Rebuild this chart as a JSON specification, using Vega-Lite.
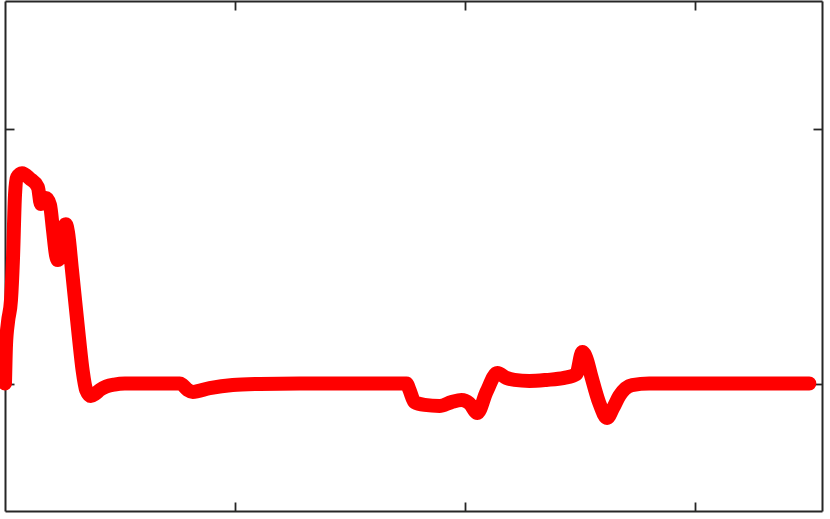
{
  "$schema": "https://vega.github.io/schema/vega-lite/v6.json",
  "width": 817,
  "height": 510,
  "autosize": {"type": "none"},
  "padding": {"left": 5, "top": 1, "right": 8, "bottom": 8},
  "background": "white",
  "config": {
    "view": {"stroke": null},
    "axis": {
      "labels": false,
      "title": null,
      "grid": false,
      "domain": true,
      "domainColor": "#262626",
      "domainWidth": 2,
      "tickColor": "#262626",
      "tickWidth": 1.8,
      "tickSize": -9,
      "zindex": 1
    }
  },
  "data": {
    "values": [
      {"t": 0, "v": 0},
      {"t": 0.87, "v": 0.151},
      {"t": 2.6, "v": 0.241},
      {"t": 5.2, "v": 0.327},
      {"t": 6.9, "v": 0.484},
      {"t": 8.7, "v": 0.74},
      {"t": 10.4, "v": 0.808},
      {"t": 14.8, "v": 0.825},
      {"t": 21.7, "v": 0.803},
      {"t": 28.6, "v": 0.77},
      {"t": 31.2, "v": 0.704},
      {"t": 33.0, "v": 0.72},
      {"t": 35.6, "v": 0.727},
      {"t": 39.1, "v": 0.7},
      {"t": 41.7, "v": 0.602},
      {"t": 44.3, "v": 0.504},
      {"t": 46.0, "v": 0.484},
      {"t": 48.6, "v": 0.524},
      {"t": 50.3, "v": 0.594},
      {"t": 52.9, "v": 0.625},
      {"t": 54.7, "v": 0.594},
      {"t": 58.2, "v": 0.445},
      {"t": 64.2, "v": 0.182},
      {"t": 67.5, "v": 0.05},
      {"t": 70.5, "v": -0.025},
      {"t": 74.6, "v": -0.049},
      {"t": 78.5, "v": -0.04},
      {"t": 82.5, "v": -0.025},
      {"t": 88, "v": -0.012},
      {"t": 95, "v": -0.004},
      {"t": 104.2, "v": 0},
      {"t": 151.9, "v": 0},
      {"t": 154.4, "v": -0.006},
      {"t": 158.8, "v": -0.025},
      {"t": 163.2, "v": -0.033},
      {"t": 177.9, "v": -0.018},
      {"t": 197.9, "v": -0.006},
      {"t": 221.3, "v": -0.002},
      {"t": 256, "v": 0},
      {"t": 348.9, "v": 0},
      {"t": 351.5, "v": -0.025},
      {"t": 355.9, "v": -0.073},
      {"t": 364.6, "v": -0.084},
      {"t": 377.6, "v": -0.088},
      {"t": 388, "v": -0.073},
      {"t": 396.7, "v": -0.065},
      {"t": 403.6, "v": -0.078},
      {"t": 410.5, "v": -0.116},
      {"t": 418.4, "v": -0.033},
      {"t": 427.9, "v": 0.041},
      {"t": 435.7, "v": 0.022},
      {"t": 442.7, "v": 0.014},
      {"t": 455.7, "v": 0.01},
      {"t": 470.4, "v": 0.014},
      {"t": 486, "v": 0.022},
      {"t": 496.5, "v": 0.037},
      {"t": 501.7, "v": 0.124},
      {"t": 505.2, "v": 0.1},
      {"t": 509.5, "v": 0.029},
      {"t": 516.4, "v": -0.076},
      {"t": 523.3, "v": -0.135},
      {"t": 528.5, "v": -0.096},
      {"t": 533.8, "v": -0.049},
      {"t": 545, "v": -0.006},
      {"t": 559.8, "v": 0},
      {"t": 699, "v": 0}
    ]
  },
  "layer": [
    {
      "mark": {"type": "line", "color": "#ff0000", "strokeWidth": 14, "strokeJoin": "round", "strokeCap": "round", "interpolate": "monotone", "clip": false},
      "encoding": {
        "x": {"field": "t", "type": "quantitative", "scale": {"domain": [0, 710], "nice": false, "zero": false}, "axis": {"orient": "bottom", "values": [200, 400, 600]}},
        "y": {"field": "v", "type": "quantitative", "scale": {"domain": [-0.5, 1.5], "nice": false, "zero": false}, "axis": {"orient": "left", "values": [0, 1]}}
      }
    },
    {
      "mark": {"type": "line", "opacity": 0},
      "encoding": {
        "x": {"field": "t", "type": "quantitative", "axis": {"orient": "top", "values": [200, 400, 600]}},
        "y": {"field": "v", "type": "quantitative", "axis": {"orient": "right", "values": [0, 1]}}
      }
    }
  ],
  "resolve": {"axis": {"x": "independent", "y": "independent"}}
}
